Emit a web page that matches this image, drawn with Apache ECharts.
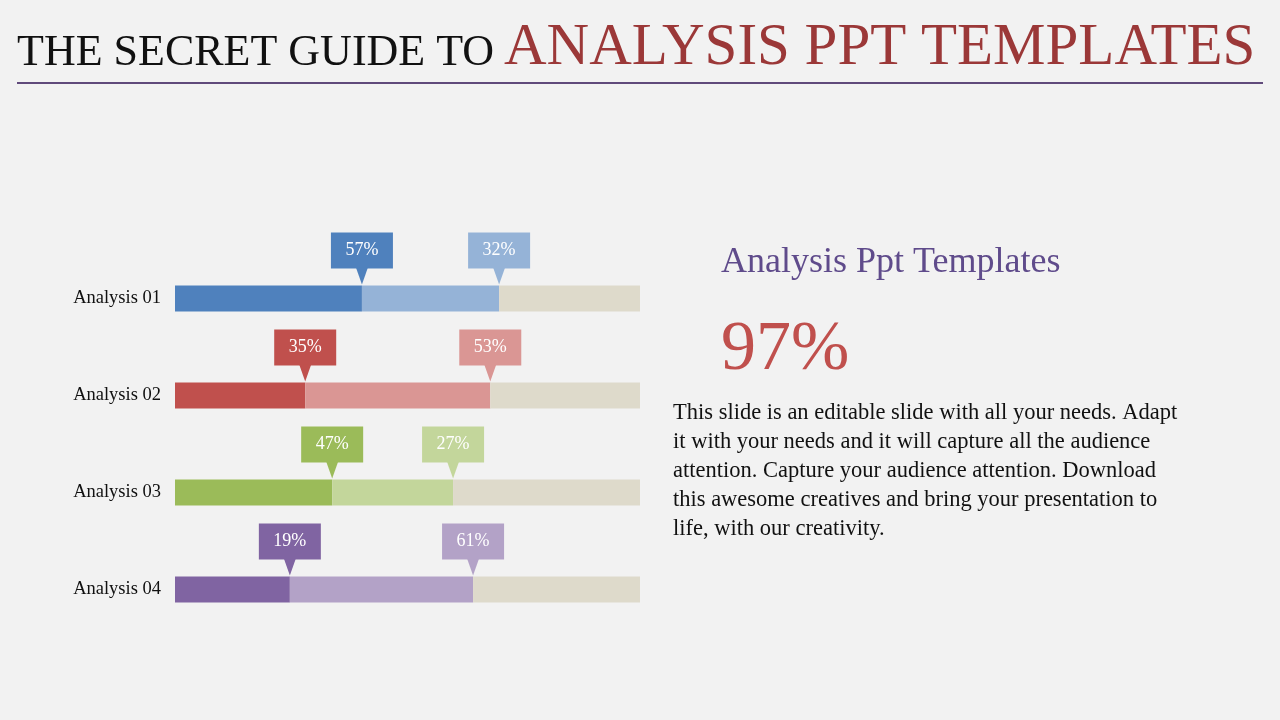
<!DOCTYPE html>
<html>
<head>
<meta charset="utf-8">
<script src="https://cdn.jsdelivr.net/npm/echarts@6/dist/echarts.min.js"></script>
<style>html,body{margin:0;padding:0;background:#f2f2f2}#main{width:1280px;height:720px}</style>
</head>
<body>
<div id="main"></div>
<script>
// rows and segment lengths (% of the track)
const categories = ['Analysis 01', 'Analysis 02', 'Analysis 03', 'Analysis 04'];
const firstPart = [40.2, 28.0, 33.8, 24.7];
const secondPart = [29.5, 39.8, 26.0, 39.4];
const firstLabels = ['57%', '35%', '47%', '19%'];
const secondLabels = ['32%', '53%', '27%', '61%'];

const darkColors = ['#4f81bd', '#c0504d', '#9bbb59', '#8064a2'];
const lightColors = ['#95b3d7', '#da9694', '#c3d69b', '#b3a2c7'];
const trackColor = '#dedacb';
const serif = '"Liberation Serif", "DejaVu Serif", serif';

const rest = firstPart.map((v, i) => 100 - v - secondPart[i]);

// callout points: [end value, row, which]
const callouts = [];
categories.forEach((c, i) => {
    callouts.push([firstPart[i], i, 0]);
    callouts.push([firstPart[i] + secondPart[i], i, 1]);
});

const chart = echarts.init(document.getElementById('main'));

chart.setOption({
    backgroundColor: '#f2f2f2',
    animation: false,
    grid: { left: 175, right: 640, top: 250, bottom: 82 },
    xAxis: { type: 'value', min: 0, max: 100, show: false },
    yAxis: {
        type: 'category', data: categories, inverse: true,
        axisLine: { show: false }, axisTick: { show: false },
        axisLabel: { color: '#111', fontFamily: serif, fontSize: 18.5, margin: 14 }
    },
    series: [
        {
            type: 'bar', stack: 'a', barWidth: 26,
            data: firstPart.map((v, i) => ({ value: v, itemStyle: { color: darkColors[i] } }))
        },
        {
            type: 'bar', stack: 'a', barWidth: 26,
            data: secondPart.map((v, i) => ({ value: v, itemStyle: { color: lightColors[i] } }))
        },
        {
            type: 'bar', stack: 'a', barWidth: 26,
            data: rest.map(v => ({ value: v, itemStyle: { color: trackColor } }))
        },
        {
            type: 'custom',
            encode: { x: 0, y: 1 },
            data: callouts,
            renderItem: function (params, api) {
                const row = api.value(1);
                const which = api.value(2);
                const p = api.coord([api.value(0), row]);
                const color = which === 0 ? darkColors[row] : lightColors[row];
                const text = which === 0 ? firstLabels[row] : secondLabels[row];
                const x = p[0], y = p[1];
                return {
                    type: 'group',
                    children: [
                        { type: 'rect', shape: { x: x - 31, y: y - 66, width: 62, height: 36 }, style: { fill: color } },
                        { type: 'polygon', shape: { points: [[x - 6, y - 31], [x + 6, y - 31], [x, y - 14]] }, style: { fill: color } },
                        { type: 'text', style: { text: text, x: x, y: y - 48, align: 'center', verticalAlign: 'middle', fill: '#fff', font: '18px ' + serif } }
                    ]
                };
            },
            z: 5
        }
    ],
    graphic: [
        { type: 'text', left: 17, top: 31, style: { text: 'THE SECRET GUIDE TO', font: '44px ' + serif, fill: '#111' } },
        { type: 'text', left: 504, top: 19, style: { text: 'ANALYSIS PPT TEMPLATES', font: '59px ' + serif, fill: '#9b3838' } },
        { type: 'rect', shape: { x: 17, y: 82, width: 1246, height: 2 }, style: { fill: '#604a7b' } },
        { type: 'text', left: 721, top: 245, style: { text: 'Analysis Ppt Templates', font: '36px ' + serif, fill: '#5f4b8b' } },
        { type: 'text', left: 721, top: 316, style: { text: '97%', font: '70px ' + serif, fill: '#c0504d' } },
        {
            type: 'text', left: 673, top: 399,
            style: {
                text: 'This slide is an editable slide with all your needs. Adapt\nit with your needs and it will capture all the audience\nattention. Capture your audience attention. Download\nthis awesome creatives and bring your presentation to\nlife, with our creativity.',
                font: '22.5px ' + serif, fill: '#111', lineHeight: 29
            }
        }
    ]
});
</script>
</body>
</html>
